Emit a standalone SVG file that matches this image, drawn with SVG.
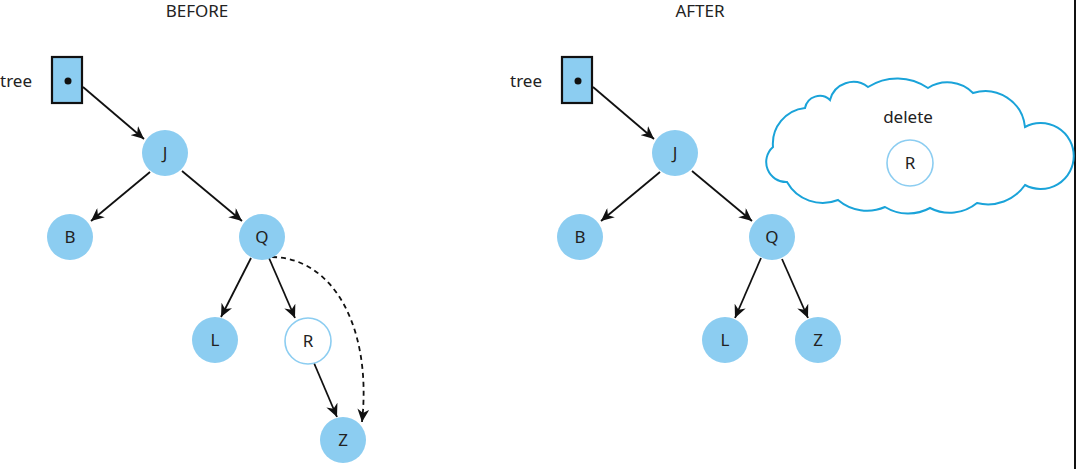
<svg xmlns="http://www.w3.org/2000/svg" width="1077" height="469" viewBox="0 0 1077 469">
<defs>
<style>
.t{font-family:"Noto Sans","Liberation Sans",sans-serif;font-size:17px;fill:#222;}
.c{text-anchor:middle;}
.n{fill:#8ccdf1;}
.w{fill:#fff;stroke:#8ccdf1;stroke-width:1.6;}
.e{stroke:#111;stroke-width:1.8;fill:none;marker-end:url(#ah);}
.d{stroke:#111;stroke-width:1.8;fill:none;stroke-dasharray:5 4;marker-end:url(#ah);}
.box{fill:#8ccdf1;stroke:#111;stroke-width:2.2;}
</style>
<marker id="ah" markerUnits="userSpaceOnUse" markerWidth="14" markerHeight="12" viewBox="0 0 14 12" refX="13" refY="6" orient="auto">
<path d="M0,0 L13,6 L0,12 L4,6 z" fill="#111"/>
</marker>
</defs>
<rect width="1077" height="469" fill="#fff"/>
<line x1="1075" y1="0" x2="1075" y2="469" stroke="#111" stroke-width="2"/>
<text class="t c" x="197" y="17">BEFORE</text>
<text class="t c" x="700" y="17">AFTER</text>
<g id="connectors">
<line class="e" x1="83" y1="87" x2="144" y2="139"/>
<line class="e" x1="150" y1="172" x2="91" y2="221"/>
<line class="e" x1="182" y1="171" x2="242" y2="221"/>
<line class="e" x1="251" y1="258" x2="221" y2="317"/>
<line class="e" x1="269" y1="258" x2="295" y2="318"/>
<line class="e" x1="314" y1="363" x2="337" y2="417"/>
<path class="d" d="M272,257 C335,258 372,330 362,422"/>
<line class="e" x1="593" y1="87" x2="654" y2="139"/>
<line class="e" x1="660" y1="172" x2="601" y2="221"/>
<line class="e" x1="692" y1="171" x2="752" y2="221"/>
<line class="e" x1="761" y1="258" x2="735" y2="318"/>
<line class="e" x1="782" y1="259" x2="808" y2="318"/>
</g>
<g id="tree1">
<text class="t" x="0" y="87">tree</text>
<rect class="box" x="52" y="57" width="30" height="46"/>
<circle cx="68" cy="81" r="3.5" fill="#111"/>
</g>
<g id="J1"><circle class="n" cx="165" cy="153" r="23"/><text class="t c" x="165" y="159">J</text></g>
<g id="B1"><circle class="n" cx="70" cy="237" r="23"/><text class="t c" x="70" y="243">B</text></g>
<g id="Q1"><circle class="n" cx="262" cy="237" r="23"/><text class="t c" x="262" y="243">Q</text></g>
<g id="L1"><circle class="n" cx="215" cy="340" r="23"/><text class="t c" x="215" y="346">L</text></g>
<g id="R1"><circle class="w" cx="308" cy="341" r="23"/><text class="t c" x="308" y="347">R</text></g>
<g id="Z1"><circle class="n" cx="343" cy="440" r="23"/><text class="t c" x="343" y="446">Z</text></g>
<g id="tree2">
<text class="t" x="510" y="87">tree</text>
<rect class="box" x="562" y="57" width="30" height="46"/>
<circle cx="578" cy="81" r="3.5" fill="#111"/>
</g>
<g id="J2"><circle class="n" cx="675" cy="153" r="23"/><text class="t c" x="675" y="159">J</text></g>
<g id="B2"><circle class="n" cx="580" cy="237" r="23"/><text class="t c" x="580" y="243">B</text></g>
<g id="Q2"><circle class="n" cx="772" cy="237" r="23"/><text class="t c" x="772" y="243">Q</text></g>
<g id="L2"><circle class="n" cx="725" cy="340" r="23"/><text class="t c" x="725" y="346">L</text></g>
<g id="Z2"><circle class="n" cx="818" cy="340" r="23"/><text class="t c" x="818" y="346">Z</text></g>
<g id="cloud">
<path d="M773,147 A36,36 0 0 1 805,108 A15,15 0 0 1 830,100 A24,24 0 0 1 868,87 A54,54 0 0 1 928,88 A36,36 0 0 1 973,93 A40,40 0 0 1 1025,127 A33,33 0 1 1 1025,185 A45,45 0 0 1 977,203 A43,43 0 0 1 930,208 A45,45 0 0 1 885,207 A45,45 0 0 1 838,200 A41,41 0 0 1 787,182 A20,20 0 0 1 773,147 Z" fill="#fff" stroke="#1aa3d9" stroke-width="2"/>
<text class="t c" x="908" y="123">delete</text>
<circle class="w" cx="910" cy="163" r="23"/>
<text class="t c" x="910" y="169">R</text>
</g>
</svg>
